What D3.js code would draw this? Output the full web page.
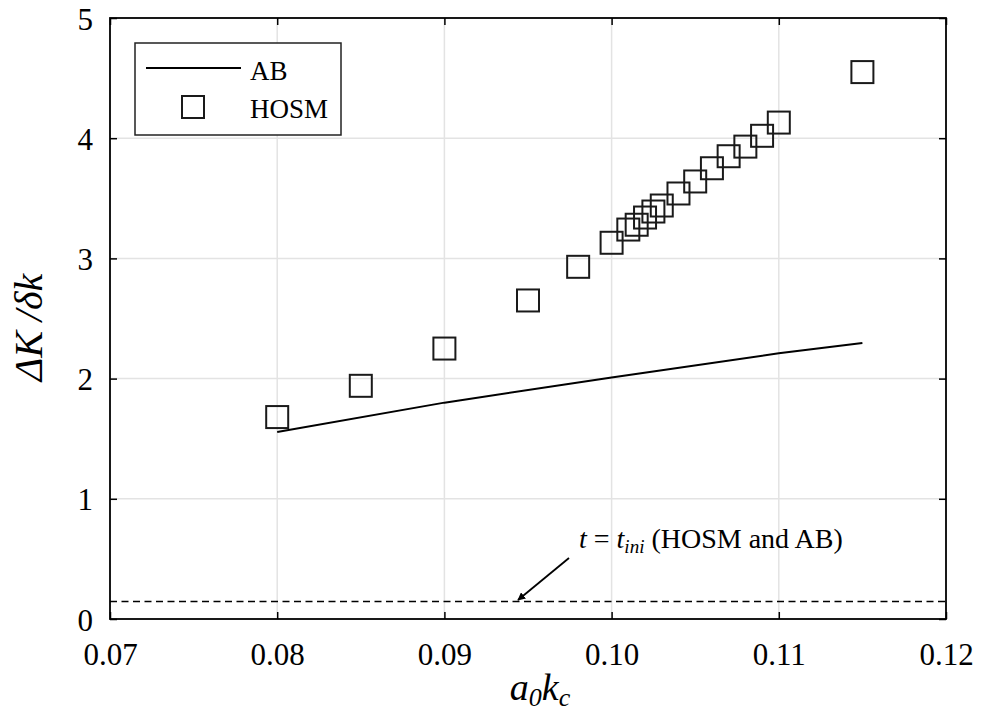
<!DOCTYPE html>
<html>
<head>
  <meta charset="UTF-8">
  <title>AK / dk versus a0kc</title>
  <style>
    body {
      margin: 0;
      padding: 0;
      background-color: #fff;
    }

    #chart {
      width: 982px;
      height: 711px;
    }
  </style>
</head>
<body>
  <div id="chart"></div>

  <script src="https://cdnjs.cloudflare.com/ajax/libs/d3/7.8.4/d3.min.js"></script>
  <script>
    // Data
    const hosmX = [0.080, 0.085, 0.090, 0.095, 0.098, 0.100, 0.101, 0.1015, 0.102, 0.1025,
                   0.103, 0.104, 0.105, 0.106, 0.107, 0.108, 0.109, 0.110, 0.115];
    const hosmY = [1.68, 1.94, 2.25, 2.65, 2.93, 3.13, 3.24, 3.28, 3.34, 3.39,
                   3.44, 3.54, 3.64, 3.75, 3.85, 3.93, 4.02, 4.13, 4.55];
    const abX = [0.080, 0.090, 0.100, 0.110, 0.115];
    const abY = [1.556, 1.80, 2.01, 2.21, 2.296];
    const initLevel = 0.145;

    const xTicks = [0.07, 0.08, 0.09, 0.10, 0.11, 0.12];
    const xTickLabels = ["0.07", "0.08", "0.09", "0.10", "0.11", "0.12"];
    const yTicks = [0, 1, 2, 3, 4, 5];
    const yTickLabels = ["0", "1", "2", "3", "4", "5"];

    const serif = "Liberation Serif";

    const width = 982;
    const height = 711;
    const margin = { top: 18, right: 36, bottom: 92, left: 110 };
    const plotW = width - margin.left - margin.right;
    const plotH = height - margin.top - margin.bottom;

    const svg = d3.select("#chart")
      .append("svg")
      .attr("width", width)
      .attr("height", height)
      .attr("font-family", serif);

    const g = svg.append("g")
      .attr("transform", `translate(${margin.left},${margin.top})`);

    const x = d3.scaleLinear().domain([0.07, 0.12]).range([0, plotW]);
    const y = d3.scaleLinear().domain([0, 5]).range([plotH, 0]);

    // grid
    g.append("g")
      .selectAll("line.vgrid")
      .data(xTicks.slice(1, -1))
      .enter()
      .append("line")
      .attr("x1", d => x(d)).attr("x2", d => x(d))
      .attr("y1", 0).attr("y2", plotH)
      .attr("stroke", "#e3e3e3")
      .attr("stroke-width", 1.5);

    g.append("g")
      .selectAll("line.hgrid")
      .data(yTicks.slice(1, -1))
      .enter()
      .append("line")
      .attr("x1", 0).attr("x2", plotW)
      .attr("y1", d => y(d)).attr("y2", d => y(d))
      .attr("stroke", "#e3e3e3")
      .attr("stroke-width", 1.5);

    // axes with inward ticks
    const tickLen = 7;
    const fmtX = d => xTickLabels[xTicks.indexOf(d)];
    const fmtY = d => yTickLabels[yTicks.indexOf(d)];

    const xAxis = g.append("g")
      .attr("transform", `translate(0,${plotH})`)
      .call(d3.axisBottom(x).tickValues(xTicks).tickFormat(fmtX).tickSizeInner(-tickLen).tickSizeOuter(0).tickPadding(24));
    xAxis.selectAll("text").attr("font-size", 31).attr("dy", "0.71em");

    const xAxisTop = g.append("g")
      .call(d3.axisTop(x).tickValues(xTicks).tickFormat("").tickSizeInner(-tickLen).tickSizeOuter(0));

    const yAxis = g.append("g")
      .call(d3.axisLeft(y).tickValues(yTicks).tickFormat(fmtY).tickSizeInner(-tickLen).tickSizeOuter(0).tickPadding(17));
    yAxis.selectAll("text").attr("font-size", 31).attr("dy", "0.36em");

    const yAxisRight = g.append("g")
      .attr("transform", `translate(${plotW},0)`)
      .call(d3.axisRight(y).tickValues(yTicks).tickFormat("").tickSizeInner(-tickLen).tickSizeOuter(0));

    [xAxis, xAxisTop, yAxis, yAxisRight].forEach(a => {
      a.attr("font-family", serif);
      a.select(".domain").remove();
      a.selectAll("line").attr("stroke", "#000").attr("stroke-width", 1.5);
    });

    // box
    g.append("rect")
      .attr("x", 0).attr("y", 0)
      .attr("width", plotW).attr("height", plotH)
      .attr("fill", "none")
      .attr("stroke", "#000")
      .attr("stroke-width", 1.8);

    // dashed line at t = t_ini
    g.append("line")
      .attr("x1", 0).attr("x2", plotW)
      .attr("y1", y(initLevel)).attr("y2", y(initLevel))
      .attr("stroke", "#000")
      .attr("stroke-width", 1.5)
      .attr("stroke-dasharray", "7,4.5");

    // AB line
    const abData = abX.map((d, i) => ({ x: d, y: abY[i] }));
    g.append("path")
      .datum(abData)
      .attr("fill", "none")
      .attr("stroke", "#000")
      .attr("stroke-width", 2)
      .attr("d", d3.line().x(d => x(d.x)).y(d => y(d.y)));

    // HOSM squares
    const sq = 22;
    const hosmData = hosmX.map((d, i) => ({ x: d, y: hosmY[i] }));
    g.selectAll("rect.hosm")
      .data(hosmData)
      .enter()
      .append("rect")
      .attr("class", "hosm")
      .attr("x", d => x(d.x) - sq / 2)
      .attr("y", d => y(d.y) - sq / 2)
      .attr("width", sq)
      .attr("height", sq)
      .attr("fill", "none")
      .attr("stroke", "#1a1a1a")
      .attr("stroke-width", 2);

    // annotation
    const ann = svg.append("text")
      .attr("x", 579)
      .attr("y", 548)
      .attr("font-size", 28);
    ann.append("tspan").attr("font-style", "italic").text("t");
    ann.append("tspan").text(" = ");
    ann.append("tspan").attr("font-style", "italic").text("t");
    ann.append("tspan").attr("font-style", "italic").attr("font-size", 19).attr("dy", 5).text("ini");
    ann.append("tspan").attr("dy", -5).text(" (HOSM and AB)");

    svg.append("defs").append("marker")
      .attr("id", "arrow")
      .attr("viewBox", "0 0 10 10")
      .attr("refX", 9).attr("refY", 5)
      .attr("markerWidth", 8).attr("markerHeight", 8)
      .attr("markerUnits", "userSpaceOnUse")
      .attr("orient", "auto")
      .append("path")
      .attr("d", "M0,0 L10,5 L0,10 Z")
      .attr("fill", "#000");

    svg.append("line")
      .attr("x1", 569).attr("y1", 558)
      .attr("x2", 518).attr("y2", 600)
      .attr("stroke", "#000")
      .attr("stroke-width", 1.8)
      .attr("marker-end", "url(#arrow)");

    // legend
    const legend = svg.append("g");
    legend.append("rect")
      .attr("x", 135).attr("y", 43)
      .attr("width", 206).attr("height", 92)
      .attr("fill", "#fff")
      .attr("stroke", "#222")
      .attr("stroke-width", 1.5);
    legend.append("line")
      .attr("x1", 146).attr("x2", 241)
      .attr("y1", 68).attr("y2", 68)
      .attr("stroke", "#000")
      .attr("stroke-width", 2);
    legend.append("text")
      .attr("x", 250).attr("y", 80)
      .attr("font-size", 27)
      .text("AB");
    legend.append("rect")
      .attr("x", 193 - sq / 2).attr("y", 107 - sq / 2)
      .attr("width", sq).attr("height", sq)
      .attr("fill", "none")
      .attr("stroke", "#1a1a1a")
      .attr("stroke-width", 2);
    legend.append("text")
      .attr("x", 250).attr("y", 118)
      .attr("font-size", 27)
      .text("HOSM");

    // axis titles
    const xt = svg.append("text")
      .attr("x", margin.left + plotW / 2 + 12)
      .attr("y", 700)
      .attr("text-anchor", "middle")
      .attr("font-size", 38)
      .attr("font-style", "italic");
    xt.append("tspan").text("a");
    xt.append("tspan").attr("font-size", 26).attr("dy", 6).text("0");
    xt.append("tspan").attr("dy", -6).text("k");
    xt.append("tspan").attr("font-size", 26).attr("dy", 6).text("c");

    svg.append("text")
      .attr("transform", `translate(42,${margin.top + plotH / 2 + 9}) rotate(-90)`)
      .attr("text-anchor", "middle")
      .attr("font-size", 40)
      .attr("font-style", "italic")
      .text("\u0394K /\u03b4k");

    svg.selectAll("text").attr("font-family", serif).attr("fill", "#000");
  </script>
</body>
</html>
